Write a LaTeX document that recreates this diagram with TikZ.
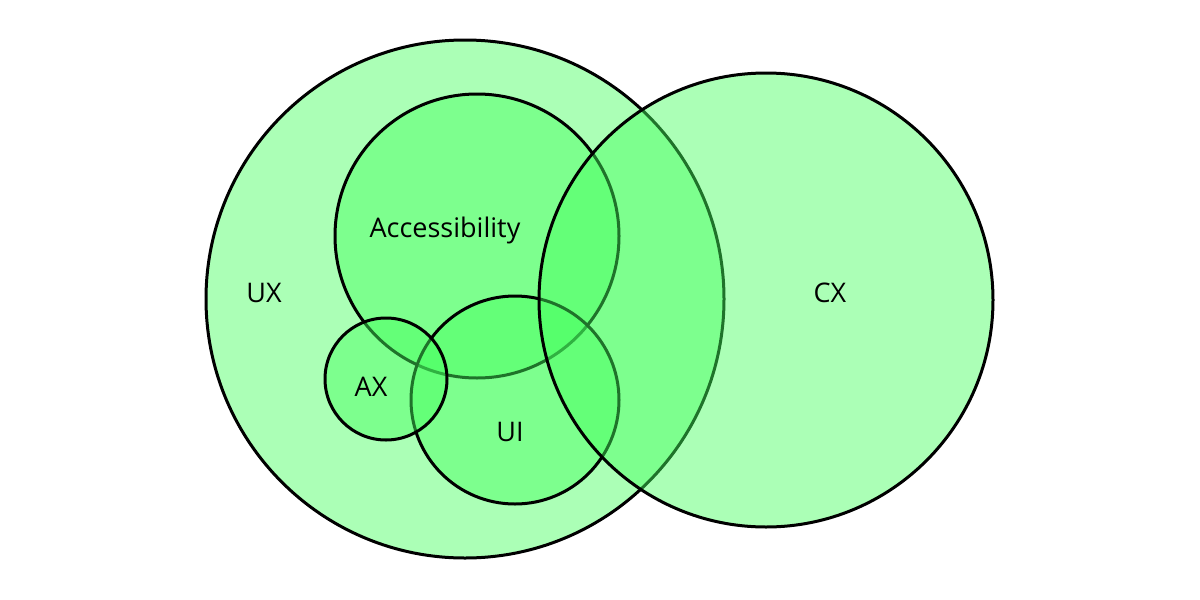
\documentclass[tikz,border=0pt]{standalone}
\usepackage{fontspec}
\setmainfont{Open Sans}
\definecolor{vennfill}{RGB}{70,255,95}
\tikzset{
  venn/.style={circle, draw=black, line width=3pt, fill=vennfill, fill opacity=0.45, inner sep=0pt},
  lbl/.style={font=\fontsize{27}{32}\selectfont, text=black, inner sep=0pt}
}
\begin{document}
\begin{tikzpicture}[x=1pt,y=-1pt]
\useasboundingbox[fill=white] (0,0) rectangle (1200,600);
\node[venn, minimum size=518pt] (ux) at (465,299) {};
\node[venn, minimum size=284pt] (acc) at (477,236) {};
\node[venn, minimum size=208pt] (ui) at (515,400) {};
\node[venn, minimum size=122pt] (ax) at (386,379) {};
\node[venn, minimum size=454pt] (cx) at (766,300) {};
\node[lbl] (uxl) at (264,293) {UX};
\node[lbl] (cxl) at (830,293) {CX};
\node[lbl] (accl) at (445,230) {Accessibility};
\node[lbl] (axl) at (371,387) {AX};
\node[lbl] (uil) at (510,432) {UI};
\end{tikzpicture}
\end{document}
